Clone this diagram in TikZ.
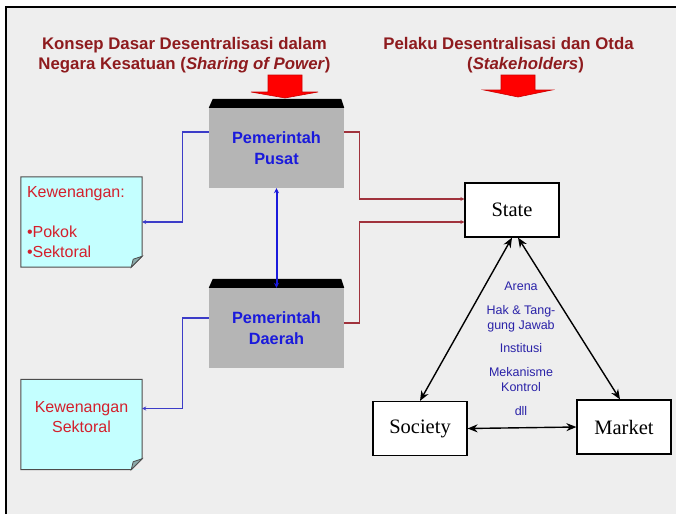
\documentclass[tikz,border=0pt]{standalone}
\usepackage{fontspec}
\setmainfont{Liberation Sans}
\newfontfamily\timesfont{Liberation Serif}
\usepackage{tikz}
\usetikzlibrary{arrows.meta, positioning}

\definecolor{panelgrey}{HTML}{EEEEEE}
\definecolor{titlered}{HTML}{8E1B1E}
\definecolor{notered}{HTML}{D4202C}
\definecolor{govblue}{HTML}{1A1ADC}
\definecolor{midblue}{HTML}{2A22A8}
\definecolor{linkred}{HTML}{A0323C}
\definecolor{linkblue}{HTML}{3C3CC8}
\definecolor{notecyan}{HTML}{C4FFFF}
\definecolor{foldgrey}{HTML}{8AAAAA}

\begin{document}
\begin{tikzpicture}[
  x=1pt, y=-1pt,
  title/.style={font=\fontsize{16.8}{20}\selectfont\bfseries, text=titlered, align=center},
  govbox/.style={fill=black!29, minimum width=135pt, minimum height=80pt, font=\fontsize{16.3}{21}\selectfont\bfseries, text=govblue, align=center},
  notebox/.style={fill=notecyan, minimum width=121pt, minimum height=90pt, font=\fontsize{16}{20}\selectfont, text=notered},
  actor/.style={draw, fill=white, line width=1.2pt, minimum width=94pt, minimum height=54pt, font=\timesfont\fontsize{20.5}{24}\selectfont},
  midtext/.style={font=\fontsize{12.5}{15.5}\selectfont, text=midblue, align=center},
  bluelink/.style={draw=linkblue, line width=1.1pt, -{Stealth[length=4pt, width=4pt]}},
  redlink/.style={draw=linkred, line width=1.1pt, -{Stealth[length=4pt, width=4pt]}},
  both/.style={{Stealth[length=10pt, width=8pt]}-{Stealth[length=10pt, width=8pt]}, line width=1.4pt},
  bigarrow/.style={fill=red, draw=red!80!black, line width=0.6pt}
]
\useasboundingbox (0,0) rectangle (676,514);
\fill[panelgrey] (6,7) rectangle (676,514);
\draw[line width=1.2pt] (6,514) -- (6,7) -- (676,7);

% titles
\node[title] (konsep) at (184.5,55) {Konsep Dasar Desentralisasi dalam\\Negara Kesatuan (\textit{Sharing of Power})};
\node[title] (pelaku) at (508.5,55) {Pelaku Desentralisasi dan Otda\\\hspace*{34pt}(\textit{Stakeholders})};
\filldraw[bigarrow] (268,75) -- (302,75) -- (302,92) -- (318,92) -- (285,98) -- (251,92) -- (268,92) -- cycle;
\filldraw[bigarrow] (501,75) -- (535,75) -- (535,90) -- (552,90) -- (518,97) -- (484,90) -- (501,90) -- cycle;

% levels of government
\node[govbox] (pusat) at (276.5,148) {Pemerintah\\Pusat};
\node[govbox] (daerah) at (276.5,328) {Pemerintah\\Daerah};
\foreach \g in {pusat,daerah}
  \fill (\g.north west) -- (\g.north east) -- ([xshift=-3pt,yshift=9pt]\g.north east) -- ([xshift=4pt,yshift=9pt]\g.north west) -- cycle;
\draw[line width=2pt, draw=govblue, {Stealth[length=5pt, width=5pt]}-{Stealth[length=5pt, width=5pt]}] (pusat) -- (daerah);

% kewenangan
\node[notebox, align=left, text width=109pt] (kpokok) at (81.5,222) {Kewenangan:\\[20pt]\textbullet Pokok\\\textbullet Sektoral};
\node[notebox] (ksektor) at (81.5,424.5) {};
\node[notebox, fill=none, align=center] (ksektorlbl) at (81.5,417.5) {Kewenangan\\Sektoral};
\foreach \k in {kpokok,ksektor} {
  \fill[panelgrey] ([yshift=11pt]\k.south east) -- (\k.south east) -- ([xshift=-11pt]\k.south east) -- cycle;
  \draw[black!70, line width=1pt] (\k.north west) -- (\k.north east) -- ([yshift=11pt]\k.south east) -- ([xshift=-11pt]\k.south east) -- (\k.south west) -- cycle;
  \filldraw[fill=foldgrey, draw=black!70, line width=0.8pt] ([yshift=11pt]\k.south east) -- ([xshift=-9pt,yshift=8pt]\k.south east) -- ([xshift=-11pt]\k.south east) -- cycle;
}
\draw[bluelink] ([yshift=16pt]pusat.west) -- ++(-26,0) |- (kpokok.east);
\draw[bluelink] ([yshift=10pt]daerah.west) -- ++(-26,0) |- ([yshift=16pt]ksektor.east);

% stakeholders
\node[actor] (state) at (512,210) {State};
\node[actor] (society) at (420,428.5) {Society};
\node[actor] (market) at (624,427) {Market};
\draw[redlink] ([yshift=16pt]pusat.east) -- ++(15,0) |- ([yshift=11pt]state.west);
\draw[redlink] ([yshift=5pt]daerah.east) -- ++(15,0) |- ([yshift=-12pt]state.west);
\draw[both] (state.south) -- (society.north);
\draw[both] ([xshift=6pt]state.south) -- ([xshift=-4pt]market.north);
\draw[both] (society.east) -- (market.west);
\node[midtext] (arena) at (521,349) {Arena\\[8pt]Hak \& Tang-\\gung Jawab\\[7.5pt]Institusi\\[8pt]Mekanisme\\Kontrol\\[8pt]dll};
\end{tikzpicture}
\end{document}
